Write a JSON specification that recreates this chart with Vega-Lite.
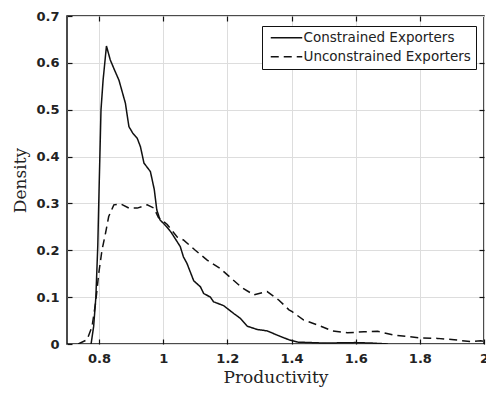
{
  "$schema": "https://vega.github.io/schema/vega-lite/v6.json",
  "width": 417,
  "height": 328,
  "autosize": {"type": "none"},
  "padding": {"left": 67, "top": 16, "right": 2, "bottom": 50},
  "background": "white",
  "config": {
    "view": {"stroke": "#111", "strokeWidth": 1.5},
    "axis": {
      "labelFont": "DejaVu Sans",
      "labelFontWeight": "bold",
      "labelFontSize": 13,
      "labelColor": "#222",
      "titleFont": "DejaVu Serif",
      "titleFontWeight": "normal",
      "titleFontSize": 17,
      "titleColor": "#222",
      "tickColor": "#111",
      "tickWidth": 1.2,
      "tickSize": -5,
      "gridColor": "#dddddd",
      "gridWidth": 1,
      "domain": false,
      "labelFlush": false,
      "labelOverlap": false
    }
  },
  "datasets": {
    "curves": [
      {"series": "Constrained Exporters", "x": 0.775, "y": 0.0},
      {"series": "Constrained Exporters", "x": 0.783, "y": 0.037},
      {"series": "Constrained Exporters", "x": 0.79, "y": 0.10},
      {"series": "Constrained Exporters", "x": 0.796, "y": 0.21},
      {"series": "Constrained Exporters", "x": 0.8, "y": 0.33},
      {"series": "Constrained Exporters", "x": 0.806, "y": 0.5},
      {"series": "Constrained Exporters", "x": 0.8125, "y": 0.563},
      {"series": "Constrained Exporters", "x": 0.823, "y": 0.636},
      {"series": "Constrained Exporters", "x": 0.835, "y": 0.606},
      {"series": "Constrained Exporters", "x": 0.848, "y": 0.585},
      {"series": "Constrained Exporters", "x": 0.862, "y": 0.563},
      {"series": "Constrained Exporters", "x": 0.882, "y": 0.514},
      {"series": "Constrained Exporters", "x": 0.893, "y": 0.464},
      {"series": "Constrained Exporters", "x": 0.905, "y": 0.45},
      {"series": "Constrained Exporters", "x": 0.919, "y": 0.439},
      {"series": "Constrained Exporters", "x": 0.929, "y": 0.421},
      {"series": "Constrained Exporters", "x": 0.94, "y": 0.386},
      {"series": "Constrained Exporters", "x": 0.96, "y": 0.368},
      {"series": "Constrained Exporters", "x": 0.972, "y": 0.33},
      {"series": "Constrained Exporters", "x": 0.98, "y": 0.286},
      {"series": "Constrained Exporters", "x": 0.99, "y": 0.265},
      {"series": "Constrained Exporters", "x": 1.011, "y": 0.25},
      {"series": "Constrained Exporters", "x": 1.025, "y": 0.238},
      {"series": "Constrained Exporters", "x": 1.053, "y": 0.208},
      {"series": "Constrained Exporters", "x": 1.063, "y": 0.186},
      {"series": "Constrained Exporters", "x": 1.074, "y": 0.172},
      {"series": "Constrained Exporters", "x": 1.095, "y": 0.135},
      {"series": "Constrained Exporters", "x": 1.116, "y": 0.122},
      {"series": "Constrained Exporters", "x": 1.126, "y": 0.108},
      {"series": "Constrained Exporters", "x": 1.147, "y": 0.1},
      {"series": "Constrained Exporters", "x": 1.157, "y": 0.09},
      {"series": "Constrained Exporters", "x": 1.188, "y": 0.082},
      {"series": "Constrained Exporters", "x": 1.22, "y": 0.065},
      {"series": "Constrained Exporters", "x": 1.24, "y": 0.055},
      {"series": "Constrained Exporters", "x": 1.262, "y": 0.038},
      {"series": "Constrained Exporters", "x": 1.293, "y": 0.031},
      {"series": "Constrained Exporters", "x": 1.324, "y": 0.028},
      {"series": "Constrained Exporters", "x": 1.355, "y": 0.019},
      {"series": "Constrained Exporters", "x": 1.392, "y": 0.009},
      {"series": "Constrained Exporters", "x": 1.42, "y": 0.004},
      {"series": "Constrained Exporters", "x": 1.5, "y": 0.002},
      {"series": "Constrained Exporters", "x": 1.6, "y": 0.003},
      {"series": "Constrained Exporters", "x": 1.65, "y": 0.002},
      {"series": "Constrained Exporters", "x": 1.7, "y": 0.0},
      {"series": "Unconstrained Exporters", "x": 0.735, "y": 0.0},
      {"series": "Unconstrained Exporters", "x": 0.7625, "y": 0.009},
      {"series": "Unconstrained Exporters", "x": 0.778, "y": 0.037},
      {"series": "Unconstrained Exporters", "x": 0.789, "y": 0.087},
      {"series": "Unconstrained Exporters", "x": 0.799, "y": 0.151},
      {"series": "Unconstrained Exporters", "x": 0.809, "y": 0.2},
      {"series": "Unconstrained Exporters", "x": 0.82, "y": 0.236},
      {"series": "Unconstrained Exporters", "x": 0.83, "y": 0.272},
      {"series": "Unconstrained Exporters", "x": 0.846, "y": 0.297},
      {"series": "Unconstrained Exporters", "x": 0.867, "y": 0.299},
      {"series": "Unconstrained Exporters", "x": 0.893, "y": 0.29},
      {"series": "Unconstrained Exporters", "x": 0.919, "y": 0.29},
      {"series": "Unconstrained Exporters", "x": 0.95, "y": 0.297},
      {"series": "Unconstrained Exporters", "x": 0.971, "y": 0.29},
      {"series": "Unconstrained Exporters", "x": 0.985, "y": 0.27},
      {"series": "Unconstrained Exporters", "x": 1.0125, "y": 0.255},
      {"series": "Unconstrained Exporters", "x": 1.044, "y": 0.228},
      {"series": "Unconstrained Exporters", "x": 1.063, "y": 0.222},
      {"series": "Unconstrained Exporters", "x": 1.1, "y": 0.2},
      {"series": "Unconstrained Exporters", "x": 1.137, "y": 0.179},
      {"series": "Unconstrained Exporters", "x": 1.178, "y": 0.161},
      {"series": "Unconstrained Exporters", "x": 1.209, "y": 0.142},
      {"series": "Unconstrained Exporters", "x": 1.246, "y": 0.12},
      {"series": "Unconstrained Exporters", "x": 1.282, "y": 0.105},
      {"series": "Unconstrained Exporters", "x": 1.324, "y": 0.112},
      {"series": "Unconstrained Exporters", "x": 1.36, "y": 0.094},
      {"series": "Unconstrained Exporters", "x": 1.392, "y": 0.073},
      {"series": "Unconstrained Exporters", "x": 1.402, "y": 0.069},
      {"series": "Unconstrained Exporters", "x": 1.438, "y": 0.051},
      {"series": "Unconstrained Exporters", "x": 1.48, "y": 0.041},
      {"series": "Unconstrained Exporters", "x": 1.527, "y": 0.028},
      {"series": "Unconstrained Exporters", "x": 1.574, "y": 0.024},
      {"series": "Unconstrained Exporters", "x": 1.626, "y": 0.026},
      {"series": "Unconstrained Exporters", "x": 1.668, "y": 0.027},
      {"series": "Unconstrained Exporters", "x": 1.72, "y": 0.019},
      {"series": "Unconstrained Exporters", "x": 1.762, "y": 0.016},
      {"series": "Unconstrained Exporters", "x": 1.803, "y": 0.013},
      {"series": "Unconstrained Exporters", "x": 1.855, "y": 0.012},
      {"series": "Unconstrained Exporters", "x": 1.907, "y": 0.009},
      {"series": "Unconstrained Exporters", "x": 1.96, "y": 0.005},
      {"series": "Unconstrained Exporters", "x": 1.99, "y": 0.007},
      {"series": "Unconstrained Exporters", "x": 2.0, "y": 0.005}
    ]
  },
  "data": {"name": "curves"},
  "layer": [
    {
      "mark": {"type": "line", "color": "#111", "strokeWidth": 1.5, "clip": true},
      "encoding": {
        "x": {
          "field": "x", "type": "quantitative",
          "scale": {"domain": [0.7, 2], "nice": false, "zero": false},
          "axis": {
            "orient": "bottom",
            "values": [0.8, 1, 1.2, 1.4, 1.6, 1.8, 2],
            "format": "~g",
            "labelPadding": 13,
            "title": "Productivity",
            "titlePadding": 4
          }
        },
        "y": {
          "field": "y", "type": "quantitative",
          "scale": {"domain": [0, 0.7], "nice": false, "zero": true},
          "axis": {
            "orient": "left",
            "values": [0, 0.1, 0.2, 0.3, 0.4, 0.5, 0.6, 0.7],
            "format": "~g",
            "labelPadding": 13,
            "title": "Density",
            "titlePadding": 6
          }
        },
        "strokeDash": {
          "field": "series", "type": "nominal",
          "scale": {
            "domain": ["Constrained Exporters", "Unconstrained Exporters"],
            "range": [[1, 0], [8, 5]]
          },
          "legend": {
            "orient": "none",
            "legendX": 195,
            "legendY": 10,
            "title": null,
            "strokeColor": "#111",
            "fillColor": "white",
            "padding": 5,
            "symbolType": "M-1,0H9.5",
            "symbolSize": 36,
            "symbolStrokeWidth": 1.5,
            "symbolStrokeColor": "#111",
            "labelFont": "DejaVu Sans",
            "labelFontSize": 13.5,
            "labelColor": "#222",
            "labelOffset": 23,
            "rowPadding": 4,
            "labelLimit": 300
          }
        }
      }
    },
    {
      "mark": {"type": "line", "opacity": 0},
      "encoding": {
        "x": {
          "field": "x", "type": "quantitative",
          "axis": {
            "orient": "top",
            "values": [0.8, 1, 1.2, 1.4, 1.6, 1.8],
            "labels": false,
            "grid": false,
            "title": null
          }
        },
        "y": {
          "field": "y", "type": "quantitative",
          "axis": {
            "orient": "right",
            "values": [0.1, 0.2, 0.3, 0.4, 0.5, 0.6],
            "labels": false,
            "grid": false,
            "title": null
          }
        }
      }
    }
  ],
  "resolve": {"axis": {"x": "independent", "y": "independent"}}
}
